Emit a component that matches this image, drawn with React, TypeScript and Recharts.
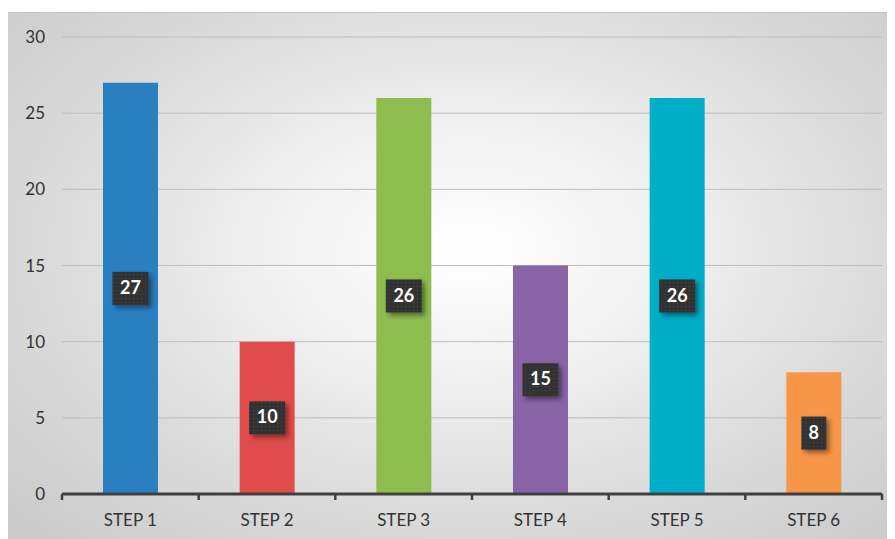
import React from 'react';
import { BarChart, Bar, XAxis, YAxis, CartesianGrid, LabelList, Cell } from 'recharts';

const steps = ['STEP 1', 'STEP 2', 'STEP 3', 'STEP 4', 'STEP 5', 'STEP 6'];
const values = [27, 10, 26, 15, 26, 8];
const barColors = ['#2a7fc1', '#e04c4b', '#8dbd4f', '#8964a7', '#00aec9', '#f79646'];
const yTicks = [0, 5, 10, 15, 20, 25, 30];
const boundaryTicks = [0, 1, 2, 3, 4, 5, 6];

const data = steps.map((step, i) => ({ step, value: values[i], pos: i + 0.5 }));

const FONT = 'Lato, "Open Sans", sans-serif';

const ValueBox = (props: any) => {
    const { x, y, width, height, value } = props;
    const cx = x + width / 2;
    const cy = y + height / 2;
    const text = String(value);
    const w = text.length > 1 ? 36 : 25;
    const h = 33;
    return (
        <g>
            <rect x={cx - w / 2} y={cy - h / 2} width={w} height={h} fill="url(#dots)" filter="url(#boxShadow)" />
            <text x={cx} y={cy + 1} textAnchor="middle" dominantBaseline="middle" fill="#fff"
                fontFamily={FONT} fontWeight={700} fontSize={18}>{text}</text>
        </g>
    );
};

export default function App() {
    return (
        <div style={{
            width: 887, height: 527, marginTop: 4,
            background: 'radial-gradient(ellipse 70% 75% at 52% 45%, #ffffff 0%, #f2f2f2 30%, #dcdcdc 65%, #cbcbcb 100%)',
            borderTop: '1px solid #c4c4c4',
            boxSizing: 'border-box',
        }}>
            <BarChart width={887} height={526} data={data} margin={{ top: 24, right: 13, left: 0, bottom: 7 }}>
                <defs>
                    <pattern id="dots" width="4" height="4" patternUnits="userSpaceOnUse">
                        <rect width="4" height="4" fill="#323232" />
                        <rect x="1" y="1" width="1" height="1" fill="#4a4a4a" />
                    </pattern>
                    <filter id="boxShadow" x="-30%" y="-30%" width="170%" height="170%">
                        <feDropShadow dx="3" dy="3" stdDeviation="2.5" floodColor="#000" floodOpacity="0.45" />
                    </filter>
                </defs>
                <CartesianGrid vertical={false} stroke="#bdbdbd" xAxisId="cat" />
                <XAxis type="number" dataKey="pos" domain={[0, 6]} ticks={boundaryTicks} height={8}
                    axisLine={{ stroke: '#404040', strokeWidth: 3 }} tickLine={{ stroke: '#404040', strokeWidth: 2.5 }}
                    tickSize={6} tickFormatter={() => ''} />
                <XAxis xAxisId="cat" dataKey="step" axisLine={false} tickLine={false} height={30}
                    tick={{ fill: '#333', fontSize: 17, fontFamily: FONT }} tickMargin={6} />
                <YAxis domain={[0, 30]} ticks={yTicks} axisLine={false} tickLine={false} tickSize={0} width={54}
                    tickMargin={17} tick={{ fill: '#333', fontSize: 17, fontFamily: FONT }} />
                <Bar dataKey="value" xAxisId="cat" barSize={55} isAnimationActive={false}>
                    {values.map((v, i) => <Cell key={i} fill={barColors[i]} />)}
                    <LabelList dataKey="value" content={<ValueBox />} />
                </Bar>
            </BarChart>
        </div>
    );
}
